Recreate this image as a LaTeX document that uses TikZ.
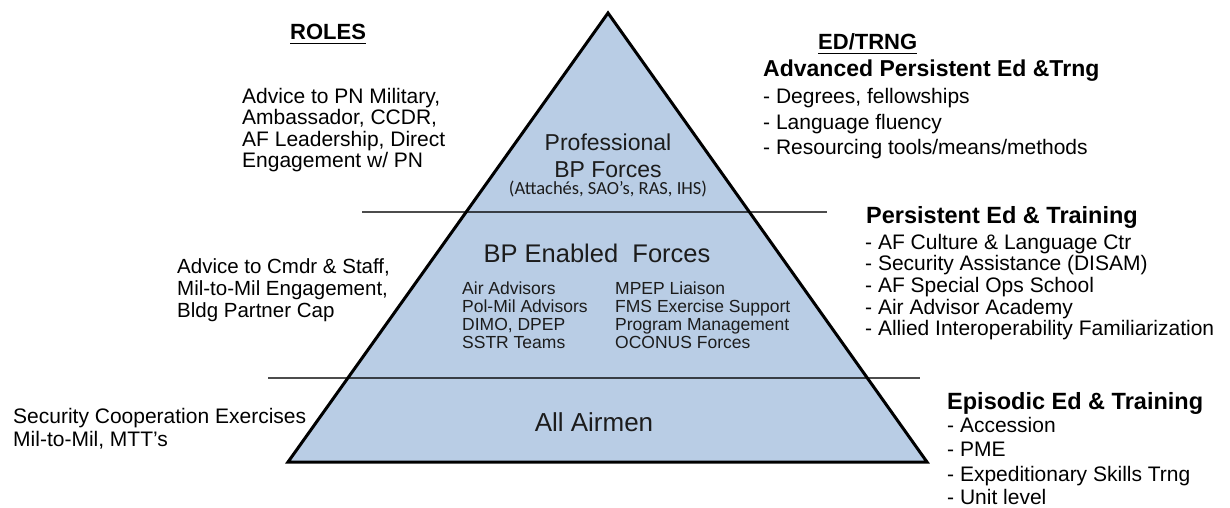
\documentclass[tikz,border=0pt]{standalone}
\usepackage{fontspec}
\setmainfont{Liberation Sans}
\newfontfamily\carlito{Carlito}
\definecolor{pyrfill}{HTML}{B9CDE5}
\definecolor{intext}{HTML}{1C1C1C}
\begin{document}
\begin{tikzpicture}[x=1pt,y=-1pt,
  txt/.style={inner sep=0pt, anchor=base west, font=\fontsize{21}{25}\selectfont},
  sub/.style={inner sep=0pt, anchor=base west, font=\fontsize{21}{25}\selectfont},
  head/.style={inner sep=0pt, anchor=base west, font=\fontsize{23.5}{27}\selectfont\bfseries},
  title/.style={inner sep=0pt, anchor=base west, font=\fontsize{22}{26}\selectfont\bfseries},
  tier/.style={inner sep=0pt, anchor=base, text=intext},
  col/.style={inner sep=0pt, anchor=base west, text=intext, font=\fontsize{17.5}{20}\selectfont},
  sepline/.style={draw=black, opacity=0.7, line width=1.5pt},
  edge/.style={draw=black, line width=3pt, line join=miter, miter limit=20},
  uline/.style={line width=1.8pt}]
\useasboundingbox (0,0) rectangle (1230,508);
\fill[white] (0,0) rectangle (1230,508);

% pyramid
\coordinate (apex) at (608,13);
\coordinate (bl) at (288,462);
\coordinate (br) at (927,462);
\fill[pyrfill] (apex) -- (br) -- (bl) -- cycle;

% tier separators
\coordinate (s1a) at (362,212);
\coordinate (s1b) at (827,212);
\coordinate (s2a) at (268,378);
\coordinate (s2b) at (920,378);
\draw[sepline] (s1a) -- (s1b);
\draw[sepline] (s2a) -- (s2b);

\draw[edge] (apex) -- (br) -- (bl) -- cycle;

% column titles
\node[title] (roles) at (290,40) {ROLES};
\draw[uline] ([yshift=-3.5pt]roles.base west) -- ([yshift=-3.5pt]roles.base east);
\node[title] (edtrng) at (818,50) {ED/TRNG};
\draw[uline] ([yshift=-3.5pt]edtrng.base west) -- ([yshift=-3.5pt]edtrng.base east);

% top tier
\node[tier, font=\fontsize{23}{27}\selectfont] (prof1) at (608,150.5) {Professional};
\node[tier, font=\fontsize{23}{27}\selectfont] (prof2) at (608,177) {BP Forces};
\node[tier, font=\fontsize{18.5}{22}\selectfont\carlito] (prof3) at (608,194) {(Attachés, SAO’s, RAS, IHS)};

% middle tier
\node[tier, font=\fontsize{25.5}{30}\selectfont] (bpe) at (597,262) {BP Enabled\ \ Forces};
\node[col] (c11) at (462,294) {Air Advisors};
\node[col] (c12) at (462,312) {Pol-Mil Advisors};
\node[col] (c13) at (462,330) {DIMO, DPEP};
\node[col] (c14) at (462,348) {SSTR Teams};
\node[col] (c21) at (615,294) {MPEP Liaison};
\node[col] (c22) at (615,312) {FMS Exercise Support};
\node[col] (c23) at (615,330) {Program Management};
\node[col] (c24) at (615,348) {OCONUS Forces};

% bottom tier
\node[tier, font=\fontsize{26}{30}\selectfont] (all) at (594,431) {All Airmen};

% roles
\node[txt] (r11) at (242,103.5) {Advice to PN Military,};
\node[txt] (r12) at (242,124.9) {Ambassador, CCDR,};
\node[txt] (r13) at (242,146.3) {AF Leadership, Direct};
\node[txt] (r14) at (242,167.7) {Engagement w/ PN};

\node[txt, font=\fontsize{20.5}{25}\selectfont] (r21) at (177,273.5) {Advice to Cmdr \& Staff,};
\node[txt, font=\fontsize{20.5}{25}\selectfont] (r22) at (177,295.5) {Mil-to-Mil Engagement,};
\node[txt, font=\fontsize{20.5}{25}\selectfont] (r23) at (177,317.5) {Bldg Partner Cap};

\node[txt] (r31) at (13,423) {Security Cooperation Exercises};
\node[txt] (r32) at (13,446.5) {Mil-to-Mil, MTT’s};

% education and training
\node[head, font=\fontsize{23}{27}\selectfont\bfseries] (e1) at (763,77) {Advanced Persistent Ed \&Trng};
\node[sub] (e11) at (763,103.5) {- Degrees, fellowships};
\node[sub] (e12) at (763,129.5) {- Language fluency};
\node[sub] (e13) at (763,154.5) {- Resourcing tools/means/methods};

\node[head] (e2) at (866,223) {Persistent Ed \& Training};
\node[sub] (e21) at (865,249) {- AF Culture \& Language Ctr};
\node[sub] (e22) at (865,270.5) {- Security Assistance (DISAM)};
\node[sub] (e23) at (865,292.5) {- AF Special Ops School};
\node[sub] (e24) at (865,314) {- Air Advisor Academy};
\node[sub] (e25) at (865,335.5) {- Allied Interoperability Familiarization};

\node[head] (e3) at (947,409.5) {Episodic Ed \& Training};
\node[sub] (e31) at (947,432) {- Accession};
\node[sub] (e32) at (947,456.5) {- PME};
\node[sub] (e33) at (947,481.5) {- Expeditionary Skills Trng};
\node[sub] (e34) at (947,504.5) {- Unit level};
\end{tikzpicture}
\end{document}
